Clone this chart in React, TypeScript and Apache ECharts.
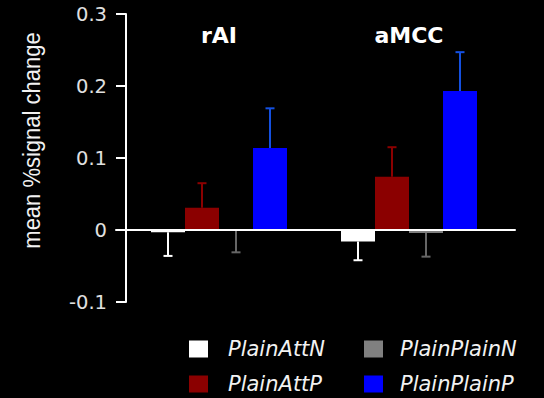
import React, { useEffect, useRef } from "react";
import * as echarts from "echarts";

const categories = ["rAI", "aMCC"];
const seriesNames = ["PlainAttN", "PlainAttP", "PlainPlainN", "PlainPlainP"];
const plainAttN = [-0.003, -0.016];
const plainAttP = [0.031, 0.074];
const plainPlainN = [-0.001, -0.004];
const plainPlainP = [0.114, 0.193];
const errAttN = [0.033, 0.026];
const errAttP = [0.034, 0.041];
const errPlainN = [0.030, 0.033];
const errPlainP = [0.055, 0.054];
const yTicks = [-0.1, 0, 0.1, 0.2, 0.3];
const yTitle = "mean %signal change";

const values = [plainAttN, plainAttP, plainPlainN, plainPlainP];
const errors = [errAttN, errAttP, errPlainN, errPlainP];
const barColors = ["#ffffff", "#8b0000", "#808080", "#0000ff"];
const errColors = ["#ffffff", "#8b0000", "#666666", "#1450e0"];
const legendPos = [
  [189, 338.5],
  [189, 373.5],
  [364, 338.5],
  [364, 373.5],
];

const BAR_W = 34;

export default function App() {
  const ref = useRef<HTMLDivElement>(null);
  useEffect(() => {
    if (!ref.current) return;
    const chart = echarts.init(ref.current, null, { renderer: "svg" });
    const font = "DejaVu Sans";
    const barSeries = seriesNames.map((name, i) => ({
      name,
      type: "bar",
      xAxisIndex: 0,
      yAxisIndex: 0,
      barWidth: BAR_W,
      barGap: "0%",
      itemStyle: { color: barColors[i] },
      data: values[i],
      z: 2,
    }));
    const errSeries = seriesNames.map((name, i) => ({
      name: name + " error",
      type: "custom",
      xAxisIndex: 0,
      yAxisIndex: 0,
      z: 3,
      data: categories.map((c, k) => [k, values[i][k], errors[i][k]]),
      renderItem: (params: any, api: any) => {
        const k = api.value(0);
        const v = api.value(1);
        const e = api.value(2);
        const sign = v < 0 ? -1 : 1;
        const start = api.coord([k, v]);
        const end = api.coord([k, v + sign * e]);
        const x = start[0] + (i - 1.5) * BAR_W;
        const style = { stroke: errColors[i], lineWidth: 2 };
        return {
          type: "group",
          children: [
            { type: "line", shape: { x1: x, y1: start[1], x2: x, y2: end[1] }, style },
            { type: "line", shape: { x1: x - 4.5, y1: end[1], x2: x + 4.5, y2: end[1] }, style },
          ],
        };
      },
    }));
    const legends = seriesNames.map((name, i) => ({
      left: legendPos[i][0],
      top: legendPos[i][1],
      data: [name],
      itemWidth: 19,
      itemHeight: 17,
      padding: 0,
      icon: "rect",
      selectedMode: false,
      textStyle: {
        color: "#f2f2f2",
        fontFamily: font,
        fontStyle: "italic",
        fontSize: 21,
        lineHeight: 17,
        padding: [0, 0, 0, i < 2 ? 15 : 12],
      },
    }));
    chart.setOption({
      animation: false,
      backgroundColor: "#000000",
      grid: [
        { left: 124, right: 40, top: 14, bottom: 96 },
        { left: 116, right: 29, top: 14, bottom: 96 },
      ],
      xAxis: [
        {
          type: "category",
          gridIndex: 0,
          data: categories,
          show: false,
        },
        {
          type: "category",
          gridIndex: 0,
          data: categories,
          position: "top",
          axisLine: { show: false },
          axisTick: { show: false },
          axisLabel: {
            inside: true,
            margin: 10,
            color: "#ffffff",
            fontFamily: font,
            fontWeight: "bold",
            fontSize: 22,
          },
        },
        {
          type: "value",
          gridIndex: 1,
          min: 0,
          max: 1,
          axisLine: { show: true, onZero: true, lineStyle: { color: "#ffffff", width: 2 } },
          axisTick: { show: false },
          axisLabel: { show: false },
          splitLine: { show: false },
          z: 10,
        },
      ],
      yAxis: [
        {
          type: "value",
          gridIndex: 0,
          min: yTicks[0],
          max: yTicks[yTicks.length - 1],
          interval: 0.1,
          offset: -2,
          axisLine: { show: true, lineStyle: { color: "#ffffff", width: 2 } },
          axisTick: { show: true, length: 10, lineStyle: { color: "#ffffff", width: 2 } },
          axisLabel: {
            color: "#e0e0e0",
            fontFamily: font,
            fontSize: 19.5,
            margin: 19,
            formatter: (v: number) => (Math.abs(v) < 1e-9 ? "0" : String(Math.round(v * 10) / 10)),
          },
          splitLine: { show: false },
        },
        {
          type: "value",
          gridIndex: 1,
          min: yTicks[0],
          max: yTicks[yTicks.length - 1],
          show: false,
        },
      ],
      legend: legends,
      graphic: [
        {
          type: "text",
          x: 31.5,
          y: 140.5,
          rotation: Math.PI / 2,
          scaleY: 1.12,
          style: {
            text: yTitle,
            fill: "#f2f2f2",
            fontFamily: "Liberation Sans",
            fontSize: 22,
            textAlign: "center",
            textVerticalAlign: "middle",
          },
        },
      ],
      series: [...barSeries, ...errSeries],
    });
    return () => chart.dispose();
  }, []);
  return (
    <div
      ref={ref}
      style={{ position: "fixed", left: 0, top: 0, width: 544, height: 398 }}
    />
  );
}
